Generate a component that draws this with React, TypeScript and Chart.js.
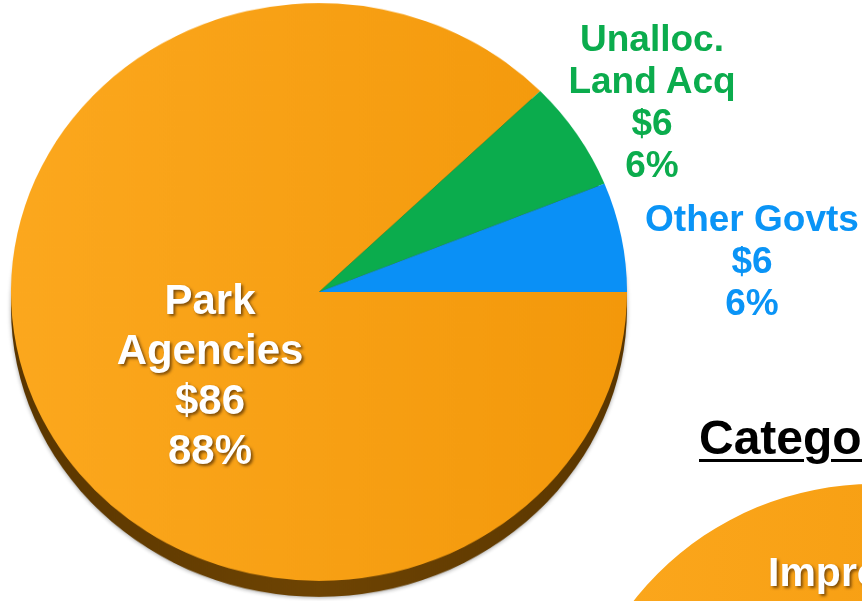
import React, { useEffect, useRef } from "react";
import { Chart, registerables } from "chart.js";

Chart.register(...registerables);

// ---- data ----
const categories = ["Park Agencies", "Unalloc. Land Acq", "Other Govts"];
const labelLines = [["Park", "Agencies"], ["Unalloc.", "Land Acq"], ["Other Govts"]];
const values = [86, 6, 6];
const sliceColors = ["#F89E10", "#0BAC4D", "#0A90F6"];
const labelColors = ["#FFFFFF", "#0BAC4D", "#0A94F6"];

const title2 = "Category";
const categories2 = ["Improvements"];
const values2 = [1];

const total = values.reduce((a, b) => a + b, 0);
const pct = (v: number) => Math.round((v / total) * 100) + "%";

const FONT = '"Liberation Sans", Arial, Helvetica, sans-serif';

const shadowPlugin = {
  id: "pieDepth",
  beforeDatasetsDraw(chart: any, _args: any, opts: any) {
    if (!opts || !opts.enabled) return;
    const meta = chart.getDatasetMeta(0);
    const ctx = chart.ctx;
    ctx.save();
    const depth = opts.depth || 16;
    meta.data.forEach((el: any) => {
      const p = el.getProps(["x", "y", "startAngle", "endAngle", "outerRadius"], true);
      const g = ctx.createLinearGradient(p.x - p.outerRadius, 0, p.x + p.outerRadius, 0);
      g.addColorStop(0, "#5A3600");
      g.addColorStop(0.5, "#6E4403");
      g.addColorStop(1, "#5A3600");
      ctx.fillStyle = g;
      ctx.shadowColor = "rgba(0,0,0,0.35)";
      ctx.shadowBlur = 4;
      ctx.shadowOffsetY = 1;
      ctx.beginPath();
      ctx.moveTo(p.x, p.y + depth);
      ctx.arc(p.x, p.y + depth, p.outerRadius, p.startAngle, p.endAngle);
      ctx.closePath();
      ctx.fill();
    });
    ctx.restore();
  },
};

function orangeGradient(c: any, base: string) {
  const chart = c.chart;
  const area = chart.chartArea;
  if (!area) return base;
  const g = chart.ctx.createLinearGradient(area.left, 0, area.right, 0);
  g.addColorStop(0, "#FCA81E");
  g.addColorStop(1, "#F3980A");
  return g;
}

function PieCanvas(props: {
  labels: string[];
  data: number[];
  colors: string[];
  radius: number;
  size: number;
  depth: boolean;
}) {
  const ref = useRef<HTMLCanvasElement | null>(null);
  useEffect(() => {
    if (!ref.current) return;
    const chart = new Chart(ref.current, {
      type: "pie",
      data: {
        labels: props.labels,
        datasets: [
          {
            data: props.data,
            backgroundColor: (c: any) => {
              const col = props.colors[c.dataIndex % props.colors.length];
              return c.dataIndex === 0 ? orangeGradient(c, col) : col;
            },
            borderWidth: 0,
          },
        ],
      },
      options: {
        responsive: false,
        animation: false,
        devicePixelRatio: 1,
        events: [],
        rotation: 90,
        radius: props.radius,
        layout: { padding: { bottom: 20 } },
        plugins: {
          legend: { display: false },
          tooltip: { enabled: false },
          title: { display: false },
          pieDepth: { enabled: props.depth, depth: 17 },
        } as any,
      },
      plugins: [shadowPlugin],
    } as any);
    return () => chart.destroy();
  }, []);
  return (
    <canvas
      ref={ref}
      width={props.size}
      height={props.size + 20}
      style={{ width: props.size, height: props.size + 20, display: "block" }}
    />
  );
}

export default function App() {
  const lineStyle = (size: number, lh: number, color: string, shadow: boolean): React.CSSProperties => ({
    position: "absolute",
    fontFamily: FONT,
    fontWeight: "bold",
    fontSize: size,
    lineHeight: lh + "px",
    color,
    textAlign: "center",
    whiteSpace: "nowrap",
    textShadow: shadow ? "2px 2px 3px rgba(60,30,0,0.65)" : "none",
  });

  // label placements (center x, top y)
  const place = [
    { cx: 210, top: 275, size: 42, lh: 50 },
    { cx: 652, top: 18, size: 37, lh: 42 },
    { cx: 752, top: 198, size: 37, lh: 42 },
  ];

  return (
    <div
      style={{
        position: "fixed",
        left: 0,
        top: 0,
        width: 862,
        height: 601,
        overflow: "hidden",
        background: "#FFFFFF",
      }}
    >
      <div
        style={{
          position: "absolute",
          left: -1,
          top: -28,
          transform: "scaleY(0.938)",
          transformOrigin: "320px 320px",
        }}
      >
        <PieCanvas labels={categories} data={values} colors={sliceColors} radius={308} size={640} depth={true} />
      </div>

      <div style={{ position: "absolute", left: 554, top: 470 }}>
        <PieCanvas labels={categories2} data={values2} colors={["#F89E10"]} radius={306} size={640} depth={false} />
      </div>

      {categories.map((cat, i) => {
        const p = place[i];
        const lines = [...labelLines[i], "$" + values[i], pct(values[i])];
        return (
          <div
            key={cat}
            style={{
              ...lineStyle(p.size, p.lh, labelColors[i], i === 0),
              left: p.cx - 150,
              width: 300,
              top: p.top,
            }}
          >
            {lines.map((l, j) => (
              <div key={j}>{l}</div>
            ))}
          </div>
        );
      })}

      <div
        style={{
          position: "absolute",
          left: 699,
          top: 414,
          fontFamily: FONT,
          fontWeight: "bold",
          fontSize: 48,
          lineHeight: "48px",
          color: "#000000",
          whiteSpace: "nowrap",
          textDecoration: "underline",
          textDecorationThickness: "3px",
          textUnderlineOffset: "5px",
        }}
      >
        {title2}
      </div>

      <div
        style={{
          position: "absolute",
          left: 768,
          top: 552,
          fontFamily: FONT,
          fontWeight: "bold",
          fontSize: 41,
          lineHeight: "41px",
          color: "#FFFFFF",
          whiteSpace: "nowrap",
          textShadow: "2px 2px 3px rgba(60,30,0,0.65)",
        }}
      >
        {categories2[0]}
      </div>
    </div>
  );
}
